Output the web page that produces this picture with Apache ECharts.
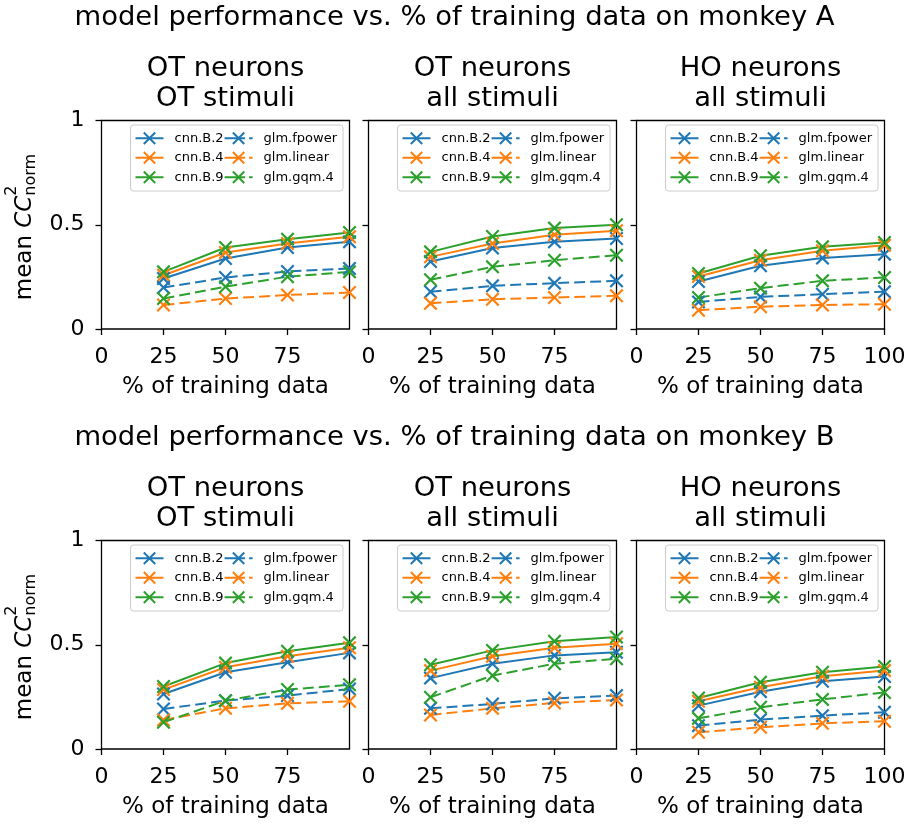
<!DOCTYPE html>
<html>
<head>
<meta charset="utf-8">
<script src="https://cdn.jsdelivr.net/npm/echarts@6/dist/echarts.min.js"></script>
<style>
  html, body { margin: 0; padding: 0; background: #ffffff; }
  #chart { width: 909px; height: 825px; }
</style>
</head>
<body>
<div id="chart"></div>
<script>
// ---- data -------------------------------------------------------------
const trainingPct = [25, 50, 75, 100];
const modelNames = ['cnn.B.2', 'cnn.B.4', 'cnn.B.9', 'glm.fpower', 'glm.linear', 'glm.gqm.4'];
const monkeyTitles = [
  'model performance vs. % of training data on monkey A',
  'model performance vs. % of training data on monkey B'
];
const panelTitles = [
  ['OT neurons', 'OT stimuli'],
  ['OT neurons', 'all stimuli'],
  ['HO neurons', 'all stimuli']
];
const xTickValues = [0, 25, 50, 75, 100];
const yTickValues = [0, 0.5, 1];

// rows follow modelNames order; columns follow trainingPct
const monkeyA_otNeurons_otStimuli = [
  [0.242, 0.338, 0.391, 0.418],
  [0.258, 0.367, 0.410, 0.442],
  [0.274, 0.391, 0.431, 0.463],
  [0.199, 0.247, 0.276, 0.290],
  [0.115, 0.146, 0.163, 0.175],
  [0.146, 0.203, 0.251, 0.274]
];
const monkeyA_otNeurons_allStimuli = [
  [0.324, 0.388, 0.418, 0.434],
  [0.346, 0.410, 0.452, 0.471],
  [0.370, 0.444, 0.484, 0.500],
  [0.179, 0.207, 0.220, 0.231],
  [0.123, 0.143, 0.151, 0.159],
  [0.236, 0.298, 0.330, 0.354]
];
const monkeyA_hoNeurons_allStimuli = [
  [0.228, 0.303, 0.340, 0.359],
  [0.252, 0.330, 0.375, 0.402],
  [0.266, 0.351, 0.394, 0.415],
  [0.130, 0.154, 0.167, 0.179],
  [0.090, 0.107, 0.115, 0.119],
  [0.151, 0.196, 0.231, 0.247]
];
const monkeyB_otNeurons_otStimuli = [
  [0.264, 0.368, 0.416, 0.461],
  [0.285, 0.392, 0.445, 0.486],
  [0.300, 0.412, 0.469, 0.510],
  [0.192, 0.232, 0.256, 0.288],
  [0.139, 0.195, 0.219, 0.229],
  [0.128, 0.232, 0.285, 0.308]
];
const monkeyB_otNeurons_allStimuli = [
  [0.340, 0.409, 0.449, 0.464],
  [0.376, 0.445, 0.486, 0.505],
  [0.404, 0.473, 0.517, 0.537],
  [0.195, 0.216, 0.243, 0.256],
  [0.163, 0.195, 0.221, 0.235],
  [0.248, 0.352, 0.409, 0.433]
];
const monkeyB_hoNeurons_allStimuli = [
  [0.208, 0.275, 0.325, 0.348],
  [0.229, 0.296, 0.349, 0.376],
  [0.245, 0.320, 0.368, 0.396],
  [0.112, 0.141, 0.160, 0.176],
  [0.080, 0.104, 0.123, 0.133],
  [0.147, 0.200, 0.238, 0.271]
];

const panelData = [
  monkeyA_otNeurons_otStimuli, monkeyA_otNeurons_allStimuli, monkeyA_hoNeurons_allStimuli,
  monkeyB_otNeurons_otStimuli, monkeyB_otNeurons_allStimuli, monkeyB_hoNeurons_allStimuli
];

// ---- styling / layout ---------------------------------------------------
const FONT = 'DejaVu Sans';
const W = 909;
const modelColors = ['#1f77b4', '#ff7f0e', '#2ca02c', '#1f77b4', '#ff7f0e', '#2ca02c'];
const dashedModel = [false, false, false, true, true, true];
const dashPattern = [11, 5];
// legend sample: dash on the left, cross in the middle, short dash at the right end
const legendDashPattern = [20.5, 4, 10, 0];
const crossSymbol = 'path://M0,1.1L1.1,0L5,3.9L8.9,0L10,1.1L6.1,5L10,8.9L8.9,10L5,6.1L1.1,10L0,8.9L3.9,5Z';

const gridLefts = [101.5, 368.5, 636.5];
const gridWidth = 248;
const gridTops = [120.5, 540.5];
const gridHeight = 208.5;

const grids = [], xAxes = [], yAxes = [], series = [], legends = [], graphics = [];

function textEl(x, y, text, size, opts) {
  return Object.assign({
    type: 'text', x: x, y: y, silent: true,
    style: {
      text: text, fill: '#000', font: size + 'px "' + FONT + '"',
      align: 'center', verticalAlign: 'middle'
    }
  }, opts || {});
}

// legend entries carry their own line style so the glm entries show dashes
const legendEntries = modelNames.map((name, m) => ({
  name: name,
  lineStyle: { color: modelColors[m], width: 2, type: dashedModel[m] ? legendDashPattern : 'solid' }
}));

for (let row = 0; row < 2; row++) {
  const top = gridTops[row];
  // figure-row heading
  graphics.push(textEl(W / 2, top - 103, monkeyTitles[row], 27.4));

  for (let col = 0; col < 3; col++) {
    const p = row * 3 + col;
    const left = gridLefts[col];
    const cx = left + gridWidth / 2;

    graphics.push(textEl(cx, top - 52, panelTitles[col][0], 27.4));
    graphics.push(textEl(cx, top - 22, panelTitles[col][1], 27.4));

    grids.push({
      left: left, top: top, width: gridWidth, height: gridHeight,
      show: true, borderColor: '#000', borderWidth: 1.3, backgroundColor: 'transparent',
      containLabel: false
    });

    const lastCol = col === 2;
    const shownX = lastCol ? xTickValues : xTickValues.slice(0, 4);
    xAxes.push({
      type: 'value', gridIndex: p, min: 0, max: 100, interval: 25,
      axisLine: { show: false },
      axisTick: { show: true, inside: false, length: 6, customValues: shownX,
                  lineStyle: { color: '#000', width: 1.3 } },
      axisLabel: { show: true, customValues: shownX, margin: 17, color: '#000',
                   fontSize: 22, fontFamily: FONT },
      splitLine: { show: false },
      name: '% of training data', nameLocation: 'middle', nameGap: 47,
      nameTextStyle: { fontSize: 23, fontFamily: FONT, color: '#000' }
    });
    yAxes.push({
      type: 'value', gridIndex: p, min: 0, max: 1, interval: 0.5,
      axisLine: { show: false },
      axisTick: { show: true, inside: false, length: 6, customValues: yTickValues,
                  lineStyle: { color: '#000', width: 1.3 } },
      axisLabel: { show: col === 0, customValues: yTickValues, margin: 17, color: '#000',
                   fontSize: 22, fontFamily: FONT },
      splitLine: { show: false }
    });

    const values = panelData[p];
    modelNames.forEach((name, m) => {
      series.push({
        type: 'line', name: name, xAxisIndex: p, yAxisIndex: p,
        data: trainingPct.map((x, i) => [x, values[m][i]]),
        symbol: crossSymbol, symbolSize: 14,
        itemStyle: { color: modelColors[m] },
        lineStyle: { color: modelColors[m], width: 2, type: dashedModel[m] ? dashPattern : 'solid' },
        emphasis: { disabled: true },
        clip: true,
        animation: false
      });
    });

    legends.push({
      data: legendEntries,
      top: top + 4.5,
      right: W - (left + gridWidth) + 6.5,
      orient: 'vertical', height: 60,
      itemWidth: 28, itemHeight: 16, itemGap: 0,
      selectedMode: false,
      backgroundColor: 'rgba(255,255,255,0.8)',
      borderColor: '#cccccc', borderWidth: 1, borderRadius: 3,
      padding: [3.5, 6, 4, 4],
      formatter: name => '{pad|}{t|' + name + '}',
      textStyle: {
        fontSize: 13, fontFamily: FONT, color: '#000', lineHeight: 19.5,
        rich: {
          pad: { width: 6, lineHeight: 19.5 },
          t: { fontSize: 13, fontFamily: FONT, color: '#000', lineHeight: 19.5 }
        }
      }
    });
  }

  // rotated y-axis label: mean CC^2_norm
  const cy = top + gridHeight / 2 + 2;
  graphics.push({
    type: 'group', x: 33, y: cy, rotation: Math.PI / 2, silent: true,
    children: [
      { type: 'text', x: -73.5, y: -8, style: { text: 'mean ', fill: '#000',
        font: '23px "' + FONT + '"', align: 'left', verticalAlign: 'middle' } },
      { type: 'text', x: -1, y: -8, style: { text: 'CC', fill: '#000',
        font: 'italic 23px "' + FONT + '"', align: 'left', verticalAlign: 'middle' } },
      { type: 'text', x: 31, y: -21.5, style: { text: '2', fill: '#000',
        font: '16px "' + FONT + '"', align: 'left', verticalAlign: 'middle' } },
      { type: 'text', x: 31, y: -2.5, style: { text: 'norm', fill: '#000',
        font: '16px "' + FONT + '"', align: 'left', verticalAlign: 'middle' } }
    ]
  });
}

const chart = echarts.init(document.getElementById('chart'), null, { renderer: 'canvas' });
chart.setOption({
  backgroundColor: '#ffffff',
  animation: false,
  textStyle: { fontFamily: FONT },
  grid: grids,
  xAxis: xAxes,
  yAxis: yAxes,
  legend: legends,
  series: series,
  graphic: graphics
});
</script>
</body>
</html>
